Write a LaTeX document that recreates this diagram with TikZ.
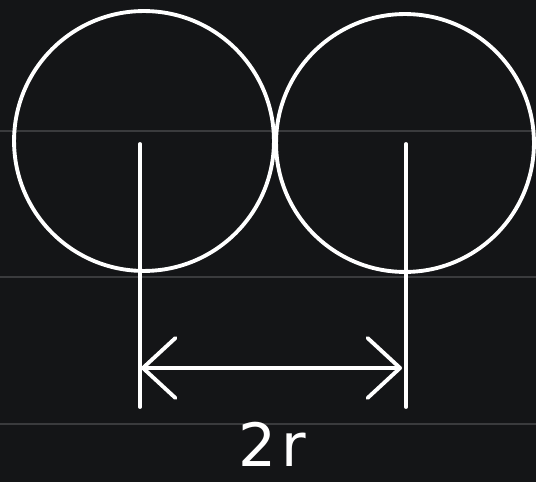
\documentclass[tikz,border=0pt]{standalone}
\usepackage{fontspec}
\setmainfont{DejaVu Sans}
\usetikzlibrary{arrows.meta}
\definecolor{board}{HTML}{141517}
\definecolor{rule}{HTML}{3A3B3D}

\begin{document}
\begin{tikzpicture}[x=0.02cm,y=-0.02cm,
		chalk/.style={draw=white,line width=2.2pt,line cap=round},
		ring/.style={chalk,circle,minimum size=#1*0.04cm,inner sep=0pt},
		ruleline/.style={draw=rule,line width=1.1pt},
		dim/.style={chalk,{Straight Barb[length=6.5mm,width=12mm,round]}-{Straight Barb[length=6.5mm,width=12mm,round]}}]
		\fill[board] (0,0) rectangle (536,482);
		\useasboundingbox (0,0) rectangle (536,482);
	%	faint ruled lines
		\draw[ruleline] (0,131) -- (536,131);
		\draw[ruleline] (0,277) -- (536,277);
		\draw[ruleline] (0,424) -- (536,424);
	%	the two circles
		\node[ring=130] (C1) at (144,141) {};
		\node[ring=129] (C2) at (405,143) {};
	%	extension lines
		\coordinate (A) at (140,144);
		\coordinate (A1) at (140,407);
		\coordinate (B) at (406,144);
		\coordinate (B1) at (406,407);
		\draw[chalk] (A) -- (A1);
		\draw[chalk] (B) -- (B1);
	%	dimension
		\coordinate (P) at (141,368);
		\coordinate (Q) at (402,368);
		\draw[dim] (P) -- (Q);
		\node[white,anchor=base,inner sep=0pt,font=\fontsize{34}{34}\selectfont] (L) at (272,466) {2\kern3pt r};
\end{tikzpicture}
\end{document}
